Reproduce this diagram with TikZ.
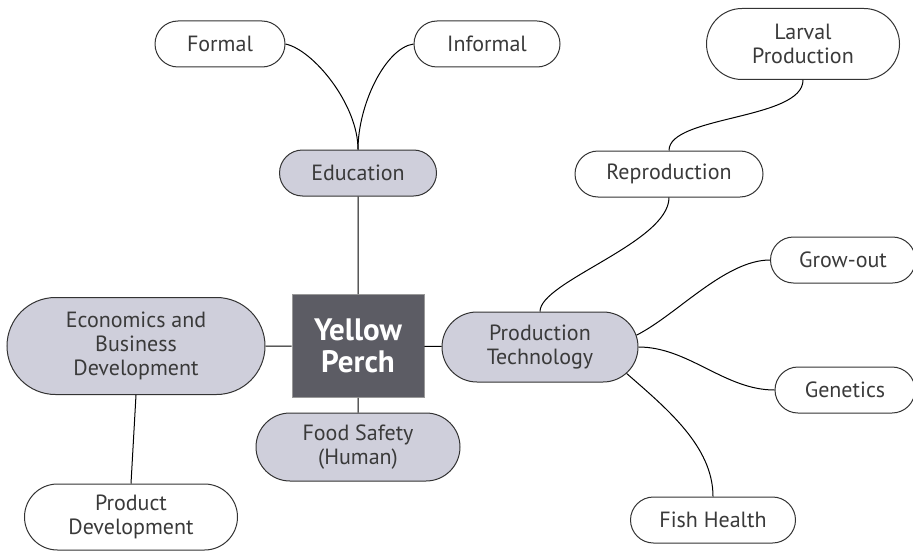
\documentclass[tikz,border=0pt]{standalone}
\usepackage{fontspec}
\setmainfont{PT Sans}
\usetikzlibrary{shapes.misc}
\definecolor{perchgray}{HTML}{5C5C64}
\definecolor{lavender}{HTML}{CFCFDB}
\definecolor{txtgray}{HTML}{3A3A3A}

\begin{document}
\begin{tikzpicture}[x=0.5pt,y=-0.5pt,
   every node/.style={font=\fontsize{11}{11.8}\selectfont,align=center,text=txtgray},
   leaf/.style={draw=black!80,line width=0.5pt,rounded rectangle,inner sep=0pt,
     fill=white,minimum height=23pt},
   hub/.style={leaf,fill=lavender},
   core/.style={draw=black!40,fill=perchgray,inner sep=0pt,minimum width=66pt,
     minimum height=51.5pt,text=white,font=\fontsize{15.5}{16}\selectfont\bfseries},
   link/.style={line width=0.5pt,black}]
  \useasboundingbox (0,0) rectangle (913,556);
  \node[core] (perch) at (358,346) {Yellow\\Perch};
  \node[hub,minimum width=78.5pt] (edu) at (358,173) {Education};
  \node[hub,minimum width=98pt,minimum height=35pt] (tech) at (540,347) {Production\\Technology};
  \node[hub,minimum width=102pt,minimum height=34pt] (food) at (358,447) {Food Safety\\(Human)};
  \node[hub,minimum width=129pt,minimum height=48.5pt] (econ) at (136,346) {Economics and\\Business\\Development};
  \node[leaf,minimum width=65pt] (formal) at (220,44) {Formal};
  \node[leaf,minimum width=73pt] (informal) at (487,44) {Informal};
  \node[leaf,minimum width=96.5pt,minimum height=35.5pt] (larval) at (803,44) {Larval\\Production};
  \node[leaf,minimum width=94pt] (repro) at (669,174) {Reproduction};
  \node[leaf,minimum width=72.5pt] (grow) at (843,260) {Grow-out};
  \node[leaf,minimum width=70pt] (gen) at (845,390) {Genetics};
  \node[leaf,minimum width=82.5pt] (fish) at (713,520) {Fish Health};
  \node[leaf,minimum width=106.5pt,minimum height=33pt] (prod) at (131,517) {Product\\Development};
  % spokes from the centre
  \draw[link] (perch)--(edu); \draw[link] (perch)--(food);
  \draw[link] (perch)--(econ); \draw[link] (perch)--(tech);
  \draw[link] (econ.south)--(prod.north);
  \draw[link] (formal.east) .. controls +(28,6) and +(0,-45) .. (edu.north);
  \draw[link] (edu.north) .. controls +(0,-45) and +(-28,4) .. (informal.west);
  \draw[link] (tech.north) .. controls +(0,-30) and +(0,45) .. (repro.south);
  \draw[link] (repro.north) .. controls +(0,-35) and +(0,40) .. (larval.south);
  \draw[link] (tech.7) .. controls +(40,-20) and +(-45,0) .. (grow.west);
  \draw[link] (tech.east) .. controls +(50,0) and +(-50,0) .. (gen.west);
  \draw[link] (tech.-17) .. controls +(40,35) and +(0,-50) .. (fish.north);
\end{tikzpicture}
\end{document}
